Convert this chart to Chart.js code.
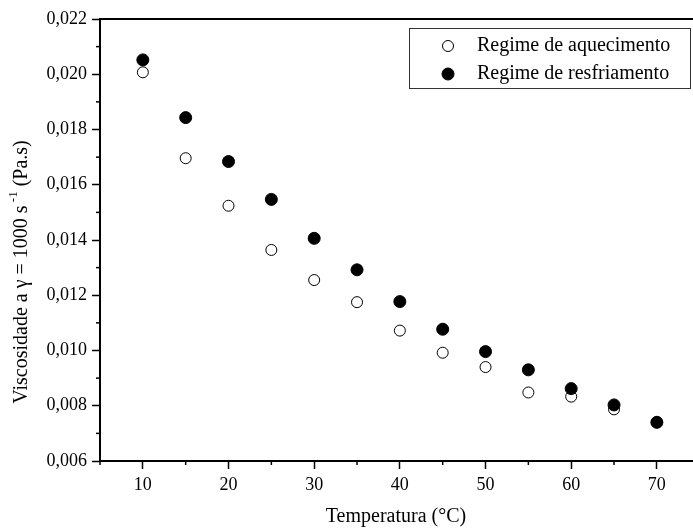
<!DOCTYPE html>
<html>
<head>
<meta charset="utf-8">
<script src="https://cdn.jsdelivr.net/npm/chart.js@4"></script>
<style>
  html, body { margin: 0; padding: 0; background: #fff; overflow: hidden; }
  #box { width: 693px; height: 529px; position: relative; }
  #chart { display: block; }
</style>
</head>
<body>
<div id="box"><canvas id="chart"></canvas></div>
<script>
const temperatures = [10, 15, 20, 25, 30, 35, 40, 45, 50, 55, 60, 65, 70];
const heating = [0.02007, 0.01696, 0.01524, 0.01364, 0.01255, 0.01175, 0.01072, 0.00992, 0.0094, 0.00848, 0.00833, 0.00787, 0.0074];
const cooling = [0.02052, 0.01843, 0.01684, 0.01547, 0.01406, 0.01292, 0.01177, 0.01077, 0.00996, 0.0093, 0.00862, 0.00803, 0.0074];
const seriesNames = ['Regime de aquecimento', 'Regime de resfriamento'];
const xTitle = 'Temperatura (°C)';
const yTitle = ['Viscosidade a γ = 1000 s', ' -1', ' (Pa.s)'];

const FONT = '"Liberation Serif", "Times New Roman", serif';

function toPoints(ys) {
  return temperatures.map((t, i) => ({ x: t, y: ys[i] }));
}

function isMajorX(v) {
  return Math.round(v) % 10 === 0;
}
function isMajorY(v) {
  return Math.round(v * 1000) % 2 === 0;
}

// minor ticks, x labels, top frame line, legend box and y title
const extras = {
  id: 'extras',
  afterDraw(chart) {
    const ctx = chart.ctx;
    const xs = chart.scales.x;
    const ys = chart.scales.y;
    const area = chart.chartArea;
    ctx.save();
    ctx.strokeStyle = '#000';
    ctx.lineWidth = 2;
    ctx.beginPath();
    ctx.moveTo(area.left - 1, area.top);
    ctx.lineTo(chart.width, area.top);
    ctx.stroke();

    ctx.lineWidth = 1.5;
    ctx.font = '18px ' + FONT;
    ctx.fillStyle = '#000';
    ctx.textAlign = 'center';
    ctx.textBaseline = 'middle';
    xs.ticks.forEach(t => {
      const px = xs.getPixelForValue(t.value);
      if (isMajorX(t.value)) {
        ctx.fillText(String(t.value), px, area.bottom + 24);
        return;
      }
      ctx.beginPath();
      ctx.moveTo(px, area.bottom);
      ctx.lineTo(px, area.bottom + 4);
      ctx.stroke();
    });
    ys.ticks.forEach(t => {
      if (isMajorY(t.value)) return;
      const py = ys.getPixelForValue(t.value);
      ctx.beginPath();
      ctx.moveTo(area.left, py);
      ctx.lineTo(area.left - 4, py);
      ctx.stroke();
    });

    // legend
    ctx.textAlign = 'left';
    ctx.lineWidth = 1;
    ctx.strokeStyle = '#333';
    ctx.strokeRect(409.5, 28.5, 281, 60);
    ctx.font = '20px ' + FONT;
    const rows = [46, 74];
    chart.data.datasets.forEach((ds, i) => {
      ctx.beginPath();
      ctx.arc(448, rows[i], ds.pointRadius, 0, Math.PI * 2);
      ctx.fillStyle = ds.pointBackgroundColor;
      ctx.fill();
      ctx.strokeStyle = '#000';
      ctx.lineWidth = 1;
      ctx.stroke();
      ctx.fillStyle = '#000';
      ctx.fillText(ds.label, 477, rows[i]);
    });

    // y title with superscript
    ctx.translate(22, 272);
    ctx.rotate(-Math.PI / 2);
    const big = '20px ' + FONT;
    const small = '13px ' + FONT;
    ctx.font = big;
    const w0 = ctx.measureText(yTitle[0]).width;
    const w2 = ctx.measureText(yTitle[2]).width;
    ctx.font = small;
    const w1 = ctx.measureText(yTitle[1]).width;
    let x = -(w0 + w1 + w2) / 2;
    ctx.font = big;
    ctx.fillText(yTitle[0], x, 0);
    x += w0;
    ctx.font = small;
    ctx.fillText(yTitle[1], x, -8);
    x += w1;
    ctx.font = big;
    ctx.fillText(yTitle[2], x, 0);
    ctx.restore();
  }
};

const ctx = document.getElementById('chart').getContext('2d');
new Chart(ctx, {
  type: 'scatter',
  data: {
    datasets: [{
      label: seriesNames[0],
      data: toPoints(heating),
      pointRadius: 5.5,
      pointBackgroundColor: '#fff',
      pointBorderColor: '#000',
      pointBorderWidth: 1,
      order: 1,
    }, {
      label: seriesNames[1],
      data: toPoints(cooling),
      pointRadius: 6,
      pointBackgroundColor: '#000',
      pointBorderColor: '#000',
      pointBorderWidth: 1,
      order: 0,
    }]
  },
  options: {
    responsive: true,
    maintainAspectRatio: false,
    animation: false,
    layout: { autoPadding: false, padding: { top: 19, right: 1, left: 0, bottom: 0 } },
    plugins: {
      legend: { display: false },
      tooltip: { enabled: false }
    },
    scales: {
      x: {
        type: 'linear',
        min: 5,
        max: 74.1,
        afterFit(scale) { scale.height = 68; },
        border: { display: true, color: '#000', width: 2 },
        grid: {
          drawOnChartArea: false,
          drawTicks: true,
          tickLength: 8,
          tickWidth: 1.5,
          tickColor: c => isMajorX(c.tick.value) ? '#000' : 'rgba(0,0,0,0)'
        },
        ticks: {
          display: false,
          stepSize: 5,
          includeBounds: false,
          autoSkip: false
        },
        title: {
          display: true,
          text: xTitle,
          color: '#000',
          font: { family: FONT, size: 20 },
          padding: { top: 4, bottom: 0 }
        }
      },
      y: {
        min: 0.006,
        max: 0.022,
        afterFit(scale) { scale.width = 100; },
        border: { display: true, color: '#000', width: 2 },
        grid: {
          drawOnChartArea: false,
          drawTicks: true,
          tickLength: 8,
          tickWidth: 1.5,
          tickColor: c => isMajorY(c.tick.value) ? '#000' : 'rgba(0,0,0,0)'
        },
        ticks: {
          stepSize: 0.001,
          autoSkip: false,
          padding: 5,
          color: '#000',
          font: { family: FONT, size: 18 },
          callback: v => isMajorY(v) ? v.toFixed(3).replace('.', ',') : ''
        }
      }
    }
  },
  plugins: [extras]
});
</script>
</body>
</html>
